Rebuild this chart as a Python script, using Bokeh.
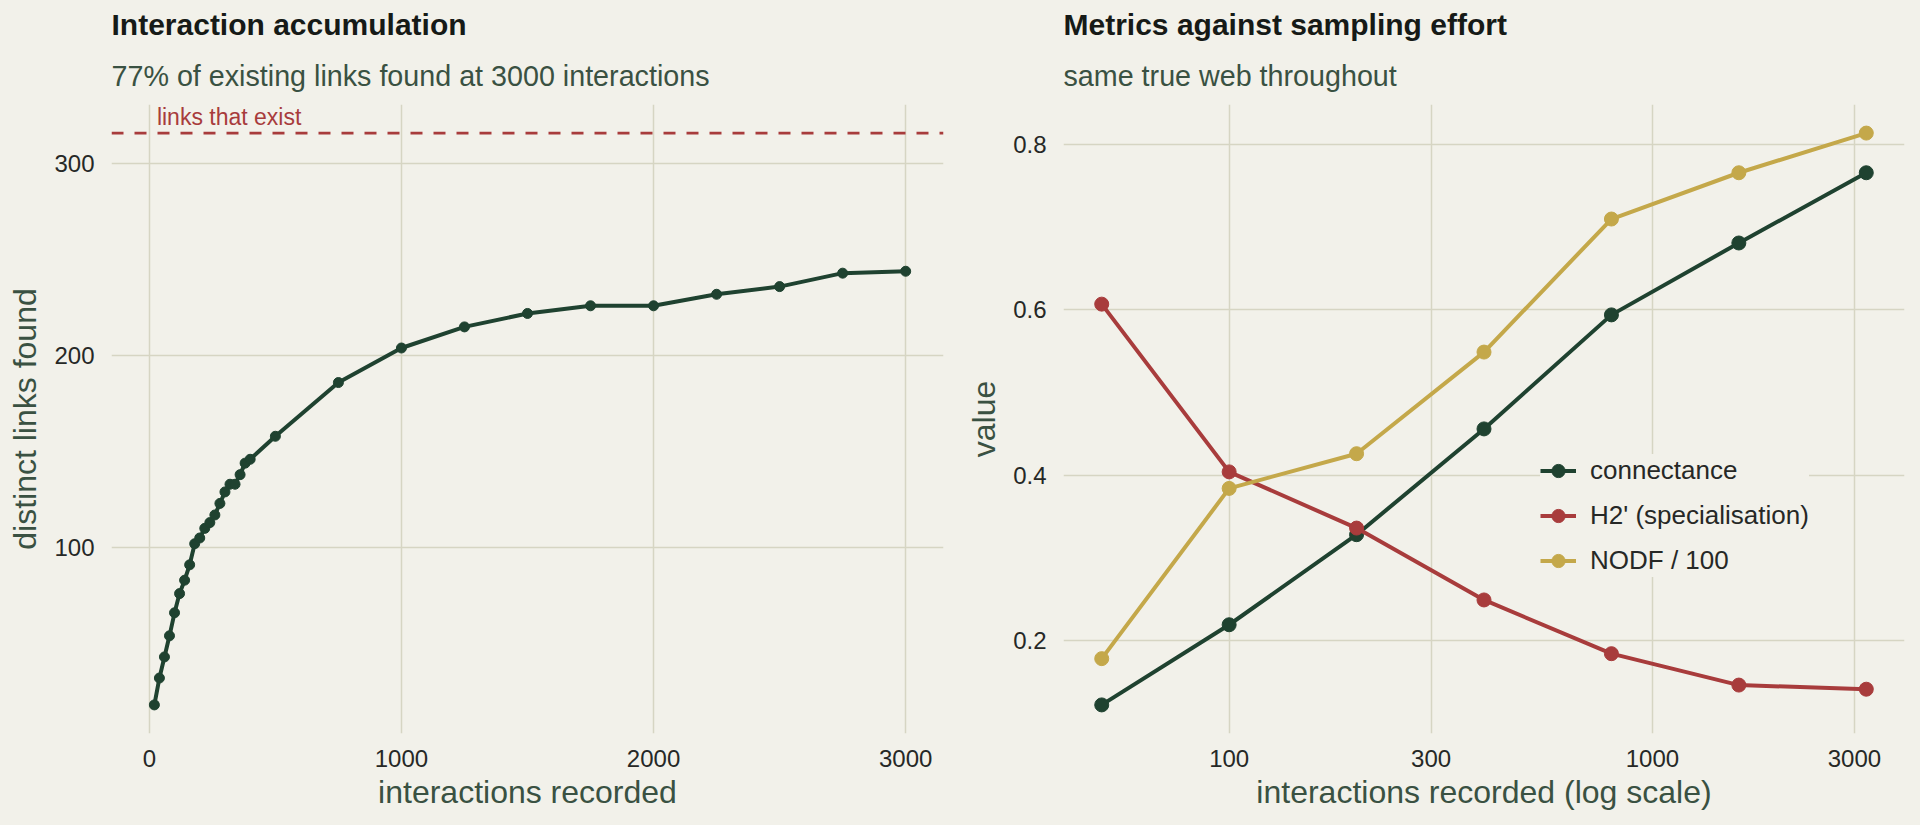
import math
from bokeh.plotting import figure
from bokeh.layouts import row
from bokeh.models import (Title, FixedTicker, CustomJSTickFormatter, Span, Label,
                          Legend, LegendItem)
from bokeh.embed import file_html
from bokeh.resources import INLINE

# ---------------- data ----------------
acc_interactions = [20, 40, 60, 80, 100, 120, 140, 160, 180, 200,
                    220, 240, 260, 280, 300, 320, 340, 360, 380, 400,
                    500, 750, 1000, 1250, 1500, 1750, 2000, 2250, 2500, 2750, 3000]
acc_links = [18, 32, 43, 54, 66, 76, 83, 91, 102, 105,
             110, 113, 117, 123, 129, 133, 133, 138, 144, 146,
             158, 186, 204, 215, 222, 226, 226, 232, 236, 243, 244]
links_exist = 316
left_xlim = [-150, 3150]
left_xticks = [0, 1000, 2000, 3000]
left_yticks = [100, 200, 300]

effort = [50, 100, 200, 400, 800, 1600, 3200]
connectance = [0.122, 0.219, 0.328, 0.456, 0.594, 0.681, 0.766]
h2 = [0.607, 0.404, 0.336, 0.249, 0.184, 0.146, 0.141]
nodf100 = [0.178, 0.384, 0.426, 0.549, 0.710, 0.766, 0.814]
right_xticks = [100, 300, 1000, 3000]
right_yticks = [0.2, 0.4, 0.6, 0.8]

# ---------------- style ----------------
FONT = "Liberation Sans"
BG = "#f2f1ea"
GRID = "#d6d5c3"
GREEN = "#1f4230"
RED = "#a83c3c"
GOLD = "#c4a84a"
TITLE_C = "#161a17"
SUB_C = "#3a5142"
TICK_C = "#262826"
LABEL_C = "#3a5142"


def style(p, title, subtitle):
    p.background_fill_color = BG
    p.border_fill_color = BG
    p.outline_line_color = None
    sub = Title(text=subtitle, align="left", text_font=FONT, text_font_size="28.7px",
                text_font_style="normal", text_color=SUB_C, standoff=25, offset=0)
    main = Title(text=title, align="left", text_font=FONT, text_font_size="30px",
                 text_font_style="bold", text_color=TITLE_C, standoff=10, offset=0)
    p.add_layout(sub, "above")
    p.add_layout(main, "above")
    for ax in (p.xaxis, p.yaxis):
        ax.axis_line_color = None
        ax.major_tick_line_color = None
        ax.minor_tick_line_color = None
        ax.major_label_text_font = FONT
        ax.major_label_text_font_size = "24px"
        ax.major_label_text_color = TICK_C
        ax.axis_label_text_font = FONT
        ax.axis_label_text_font_size = "32px"
        ax.axis_label_text_font_style = "normal"
        ax.axis_label_text_color = LABEL_C
    p.xaxis.major_label_standoff = 10
    p.yaxis.major_label_standoff = 11
    p.xaxis.axis_label_standoff = 4
    p.yaxis.axis_label_standoff = 8
    p.xgrid.grid_line_color = GRID
    p.ygrid.grid_line_color = GRID
    p.xgrid.grid_line_width = 1.5
    p.ygrid.grid_line_width = 1.5


# ---------------- left panel ----------------
lpad_y = 0.05 * (links_exist - min(acc_links))
p1 = figure(width=960, height=825, output_backend="svg", toolbar_location=None,
            x_range=(left_xlim[0], left_xlim[1]),
            y_range=(min(acc_links) - lpad_y, links_exist + lpad_y),
            min_border_left=111, min_border_right=17, min_border_bottom=92, min_border_top=0)
style(p1, "Interaction accumulation", "77% of existing links found at 3000 interactions")
p1.xaxis.ticker = FixedTicker(ticks=left_xticks)
p1.yaxis.ticker = FixedTicker(ticks=left_yticks)
p1.xaxis.axis_label = "interactions recorded"
p1.yaxis.axis_label = "distinct links found"

p1.add_layout(Span(location=links_exist, dimension="width", line_color=RED,
                   line_width=2.8, line_dash="12 11"))
p1.add_layout(Label(x=30, y=links_exist, y_offset=3, text="links that exist",
                    text_font=FONT, text_font_size="23px", text_color=RED,
                    text_baseline="bottom", text_align="left"))
p1.line(acc_interactions, acc_links, line_color=GREEN, line_width=4)
p1.scatter(acc_interactions, acc_links, size=10, fill_color=GREEN, line_color=GREEN)

# ---------------- right panel ----------------
lo, hi = math.log10(min(effort)), math.log10(max(effort))
rpad_x = 0.05 * (hi - lo)
allv = connectance + h2 + nodf100
rpad_y = 0.05 * (max(allv) - min(allv))
p2 = figure(width=960, height=825, output_backend="svg", toolbar_location=None,
            x_axis_type="log",
            x_range=(10 ** (lo - rpad_x), 10 ** (hi + rpad_x)),
            y_range=(min(allv) - rpad_y, max(allv) + rpad_y),
            min_border_left=103, min_border_right=16, min_border_bottom=92, min_border_top=0)
style(p2, "Metrics against sampling effort", "same true web throughout")
p2.xaxis.ticker = FixedTicker(ticks=right_xticks, minor_ticks=[])
p2.xaxis.formatter = CustomJSTickFormatter(code="return String(Math.round(tick));")
p2.yaxis.ticker = FixedTicker(ticks=right_yticks)
p2.yaxis.formatter = CustomJSTickFormatter(code="return tick.toFixed(1);")
p2.xaxis.axis_label = "interactions recorded (log scale)"
p2.yaxis.axis_label = "value"

items = []
for name, vals, col in (("connectance", connectance, GREEN),
                        ("H2' (specialisation)", h2, RED),
                        ("NODF / 100", nodf100, GOLD)):
    r1 = p2.line(effort, vals, line_color=col, line_width=4)
    r2 = p2.scatter(effort, vals, size=14, fill_color=col, line_color=col)
    items.append(LegendItem(label=name, renderers=[r1, r2]))

legend = Legend(items=items, location=(477, 156), background_fill_color=BG,
                background_fill_alpha=1, border_line_color=None,
                label_text_font=FONT, label_text_font_size="26px", label_text_color=TICK_C,
                glyph_width=36, glyph_height=33, label_height=26, label_standoff=14,
                spacing=12, padding=20, margin=0)
p2.add_layout(legend, "center")

layout = row(p1, p2, spacing=0)
html = file_html(layout, INLINE)
html = html.replace("<head>", "<head><style>html,body{margin:0;padding:0;background:%s;}</style>" % BG, 1)
open("out.html", "w").write(html)
